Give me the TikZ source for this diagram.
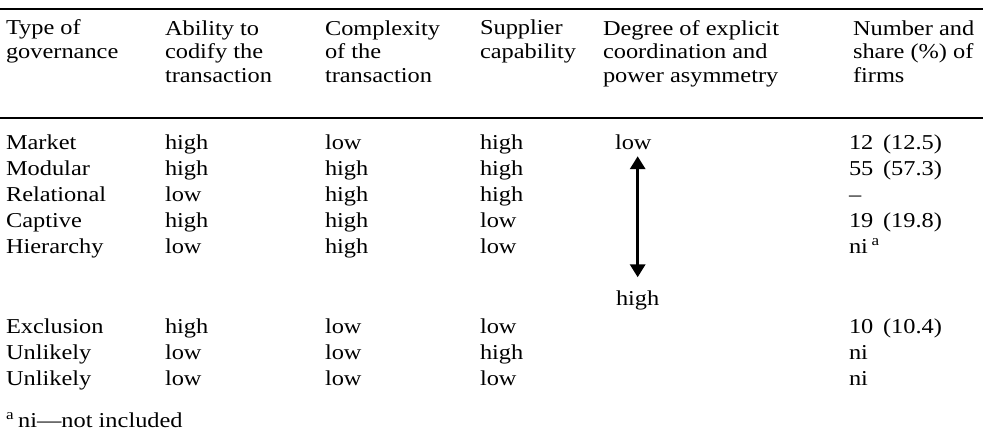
\documentclass[tikz,border=0pt]{standalone}
\usepackage{fontspec}
\setmainfont{Liberation Serif}[FakeStretch=1.15]
\usetikzlibrary{positioning,arrows.meta}

\begin{document}
\begin{tikzpicture}[
    x=0.5pt, y=-0.5pt,
    every node/.style={inner sep=0pt, outer sep=0pt, font=\fontsize{10.6}{11.75}\selectfont},
    head/.style={anchor=base west, align=left},
    cell/.style={anchor=base west},
    rule/.style={line width=1pt},
    scalearrow/.style={line width=1.65pt, {Triangle[width=7.5pt,length=6.5pt]}-{Triangle[width=7.5pt,length=6.5pt]}}
]
\useasboundingbox (0,0) rectangle (983,440);

% rules
\draw[rule] (0,9) -- (983,9);
\draw[rule] (0,118) -- (983,118);

% header (placed by the baseline of the last line)
\node[head] (hd1) at (6,58)   {Type of\\governance};
\node[head] (hd2) at (165,82) {Ability to\\codify the\\transaction};
\node[head] (hd3) at (325,82) {Complexity\\of the\\transaction};
\node[head] (hd4) at (480,58) {Supplier\\capability};
\node[head] (hd5) at (603,82) {Degree of explicit\\coordination and\\power asymmetry};
\node[head] (hd6) at (853,82) {Number and\\share (\%) of\\firms};

% rows
\foreach \yb/\ty/\ab/\cx/\sp/\nf [count=\n] in {
    149/Market/high/low/high/12\ \,(12.5),
    175/Modular/high/high/high/55\ \,(57.3),
    201/Relational/low/high/high/--,
    227/Captive/high/high/low/19\ \,(19.8),
    253/Hierarchy/low/high/low/ni\,\textsuperscript{a},
    333/Exclusion/high/low/low/10\ \,(10.4),
    359/Unlikely/low/low/high/ni,
    385/Unlikely/low/low/low/ni}{
    \node[cell] (ty-\n) at (6,\yb)   {\ty};
    \node[cell] (ab-\n) at (165,\yb) {\ab};
    \node[cell] (cx-\n) at (325,\yb) {\cx};
    \node[cell] (sp-\n) at (480,\yb) {\sp};
    \node[cell] (nf-\n) at (849,\yb) {\nf};
}

% coordination scale
\node[cell] (lo) at (615,149) {low};
\node[cell] (hi) at (616,305) {high};
\draw[scalearrow, shorten <=3.5pt, shorten >=6.5pt] (lo.south -| hi.north) -- (hi.north);

% footnote
\node[cell] (foot) at (6,427) {\textsuperscript{a}\,ni---not included};
\end{tikzpicture}
\end{document}
